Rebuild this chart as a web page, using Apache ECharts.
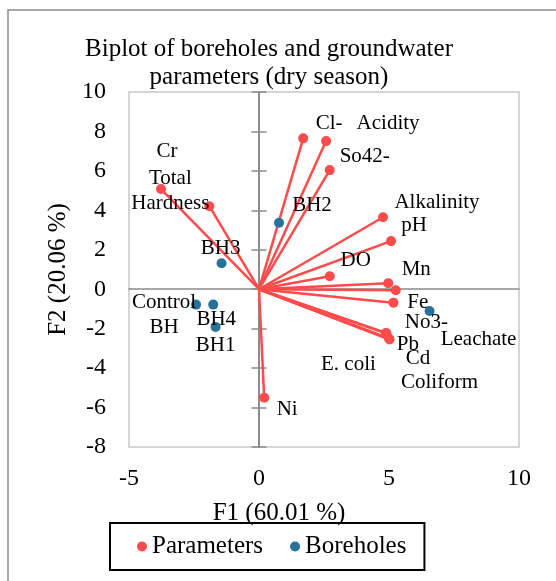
<!DOCTYPE html>
<html>
<head>
<meta charset="utf-8">
<script src="https://cdn.jsdelivr.net/npm/echarts@6/dist/echarts.min.js"></script>
<style>
html,body{margin:0;padding:0;background:#fff;}
#main{width:556px;height:581px;}
</style>
</head>
<body>
<div id="main"></div>
<script>
// ---- data ----
const paramNames = ['Cr','Total\nHardness','Cl-','Acidity','So42-','Alkalinity','pH','DO','Mn','Fe','No3-','Pb','Cd','Coliform','E. coli','Ni'];
const paramF1 = [-3.77,-1.91,1.70,2.58,2.72,4.77,5.08,2.72,4.97,5.26,5.17,4.88,5.00,5.02,4.90,0.20];
const paramF2 = [5.08,4.21,7.65,7.51,6.04,3.65,2.44,0.66,0.30,-0.05,-0.68,-2.22,-2.50,-2.55,-2.24,-5.50];

const boreNames = ['BH2','BH3','Control\nBH','BH4','BH1','Leachate'];
const boreF1 = [0.77,-1.44,-2.42,-1.76,-1.67,6.56];
const boreF2 = [3.37,1.32,-0.78,-0.78,-1.91,-1.10];

const xTicks = [-5,0,5,10];
const yTicks = [-8,-6,-4,-2,0,2,4,6,8,10];

// ---- label placement (style, pixels) ----
const paramLabelOffsets = [[6,-38],[-39,-15],[26,-15],[62,-18],[35,-14],[54,-15],[23,-16],[26,-16],[28,-14],[22,12],[33,20],[22,11],[29,20],[50,43],[-38,31],[23,12]];
const boreLabelOffsets = [[33,-17],[-1,-15],[-32,10],[3,15],[0,19],[49,29]];

const RED = '#FF4B4B';
const BLUE = '#28729A';
const AXIS_GRAY = '#8C8C8C';
const FONT = 'Liberation Serif';

const chart = echarts.init(document.getElementById('main'), null, {renderer: 'canvas'});

const xMin = xTicks[0], xMax = xTicks[xTicks.length-1], xInt = xTicks[1]-xTicks[0];
const yMin = yTicks[0], yMax = yTicks[yTicks.length-1], yInt = yTicks[1]-yTicks[0];

const txt = (size) => ({fontSize: size, fontFamily: FONT, fontWeight: 'normal', color: '#000'});

const option = {
  animation: false,
  backgroundColor: '#fff',
  textStyle: {fontFamily: FONT},
  title: {
    text: 'Biplot of boreholes and groundwater\nparameters (dry season)',
    left: 269, top: 35, textAlign: 'center', padding: 0,
    textStyle: Object.assign(txt(25), {lineHeight: 28})
  },
  graphic: [{
    type: 'rect', silent: true, z: -10,
    shape: {x: 8, y: 10, width: 700, height: 700},
    style: {fill: 'none', stroke: '#8C8C8C', lineWidth: 1.5}
  }],
  legend: {
    data: ['Parameters', 'Boreholes'],
    left: 110, top: 523,
    icon: 'circle', itemWidth: 10, itemHeight: 10, itemGap: 27,
    borderColor: '#000', borderWidth: 2,
    padding: [11, 18, 11, 27],
    textStyle: txt(25)
  },
  grid: {left: 129, right: 37, top: 92, bottom: 134, show: true, borderColor: '#C8C8C8', borderWidth: 1.5, backgroundColor: 'transparent'},
  xAxis: [{
    type: 'value', min: xMin, max: xMax, interval: xInt,
    axisLine: {show: false, onZero: false}, axisTick: {show: false}, splitLine: {show: false},
    axisLabel: Object.assign(txt(24), {margin: 20}),
    name: 'F1 (60.01 %)', nameLocation: 'middle', nameGap: 54,
    nameTextStyle: Object.assign(txt(25), {padding: [0, 90, 0, 0]})
  }, {
    type: 'value', min: xMin, max: xMax, interval: xInt, position: 'bottom',
    axisLine: {show: true, onZero: true, onZeroAxisIndex: 0, lineStyle: {color: AXIS_GRAY, width: 1.5}},
    axisTick: {show: false}, axisLabel: {show: false}, splitLine: {show: false}
  }],
  yAxis: [{
    type: 'value', min: yMin, max: yMax, interval: yInt,
    axisLine: {show: false, onZero: false}, axisTick: {show: false}, splitLine: {show: false},
    axisLabel: Object.assign(txt(24), {margin: 23}),
    name: 'F2 (20.06 %)', nameLocation: 'middle', nameGap: 53, nameRotate: 90,
    nameTextStyle: txt(25)
  }, {
    type: 'value', min: yMin, max: yMax, interval: yInt, position: 'left',
    axisLine: {show: true, onZero: true, onZeroAxisIndex: 0, lineStyle: {color: AXIS_GRAY, width: 2}},
    axisTick: {show: true, inside: false, length: 7.5, lineStyle: {color: AXIS_GRAY, width: 1.5}},
    axisLabel: {show: false}, splitLine: {show: false}
  }, {
    type: 'value', min: yMin, max: yMax, interval: yInt, position: 'left',
    axisLine: {show: false, onZero: true, onZeroAxisIndex: 0},
    axisTick: {show: true, inside: true, length: 7.5, lineStyle: {color: AXIS_GRAY, width: 1.5}},
    axisLabel: {show: false}, splitLine: {show: false}
  }],
  series: [{
    name: 'vectors', type: 'lines', coordinateSystem: 'cartesian2d',
    xAxisIndex: 0, yAxisIndex: 0, silent: true, z: 2,
    lineStyle: {color: RED, width: 2.5, opacity: 1},
    data: paramF1.map((x, i) => ({coords: [[0, 0], [x, paramF2[i]]]}))
  }, {
    name: 'Parameters', type: 'scatter', xAxisIndex: 0, yAxisIndex: 0, z: 3,
    symbolSize: 10, itemStyle: {color: RED, opacity: 1},
    label: Object.assign(txt(21), {show: true, position: 'inside', formatter: '{b}', lineHeight: 25, align: 'center'}),
    data: paramF1.map((x, i) => ({name: paramNames[i], value: [x, paramF2[i]], label: {offset: paramLabelOffsets[i]}}))
  }, {
    name: 'Boreholes', type: 'scatter', xAxisIndex: 0, yAxisIndex: 0, z: 3,
    symbolSize: 10, itemStyle: {color: BLUE, opacity: 1},
    label: Object.assign(txt(21), {show: true, position: 'inside', formatter: '{b}', lineHeight: 25, align: 'center'}),
    data: boreF1.map((x, i) => ({name: boreNames[i], value: [x, boreF2[i]], label: {offset: boreLabelOffsets[i]}}))
  }]
};
chart.setOption(option);
</script>
</body>
</html>
